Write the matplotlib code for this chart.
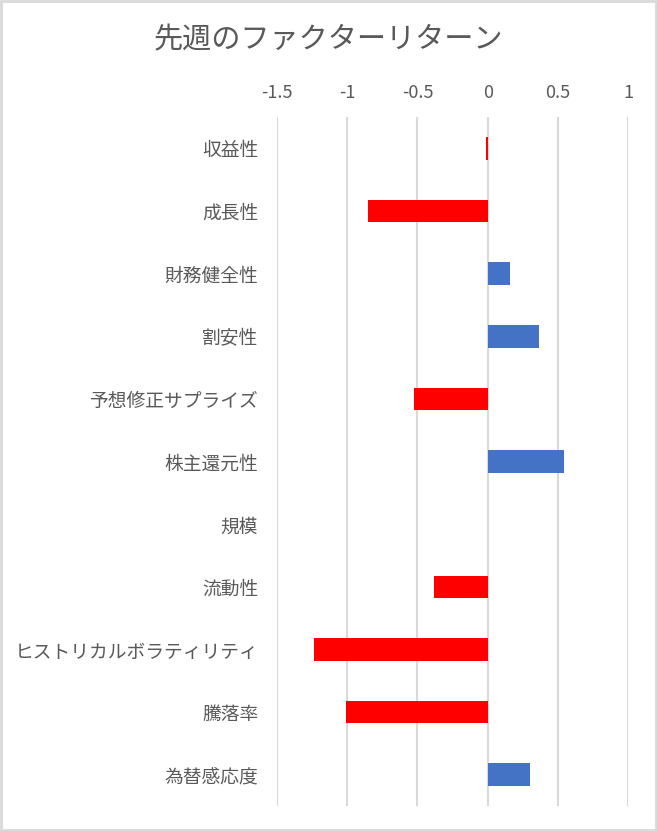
import matplotlib.pyplot as plt
from matplotlib.patches import Rectangle

plt.rcParams['font.family'] = ['Noto Sans CJK JP', 'DejaVu Sans']

# Data
factors = ["収益性", "成長性", "財務健全性", "割安性", "予想修正サプライズ",
           "株主還元性", "規模", "流動性", "ヒストリカルボラティリティ",
           "騰落率", "為替感応度"]
returns = [-0.01, -0.855, 0.158, 0.367, -0.521, 0.545, 0.0, -0.379,
           -1.233, -1.012, 0.302]
xticks = [-1.5, -1, -0.5, 0, 0.5, 1]
xtick_labels = ["-1.5", "-1", "-0.5", "0", "0.5", "1"]


def main():
    fig = plt.figure(figsize=(6.57, 8.31), dpi=100)
    ax = fig.add_axes([0.4216, 0.030, 0.5344, 0.829])

    colors = ["#FF0000" if v < 0 else "#4472C4" for v in returns]
    y = list(range(len(factors)))
    ax.barh(y, returns, height=0.36, color=colors, zorder=3)

    ax.set_ylim(len(factors) - 0.5, -0.5)
    ax.set_xlim(-1.5, 1.0)
    ax.set_yticks(y)
    ax.set_yticklabels(factors, fontsize=13.5, color="#595959")
    ax.set_xticks(xticks)
    ax.set_xticklabels(xtick_labels, fontsize=13, color="#595959")
    ax.xaxis.tick_top()
    ax.tick_params(axis="both", length=0)
    ax.tick_params(axis="x", pad=11)
    ax.tick_params(axis="y", pad=13.5)
    ax.grid(axis="x", color="#D9D9D9", linewidth=1.5, zorder=0)
    for s in ax.spines.values():
        s.set_visible(False)

    fig.text(0.5, 0.952, "先週のファクターリターン", ha="center", va="center",
             fontsize=21, color="#595959")

    # light border around the chart area
    fig.patches.append(Rectangle((0.0015, 0.0015), 0.997, 0.997,
                                 transform=fig.transFigure, fill=False,
                                 edgecolor="#D9D9D9", linewidth=2))

    fig.savefig("out.png", dpi=100)


main()
